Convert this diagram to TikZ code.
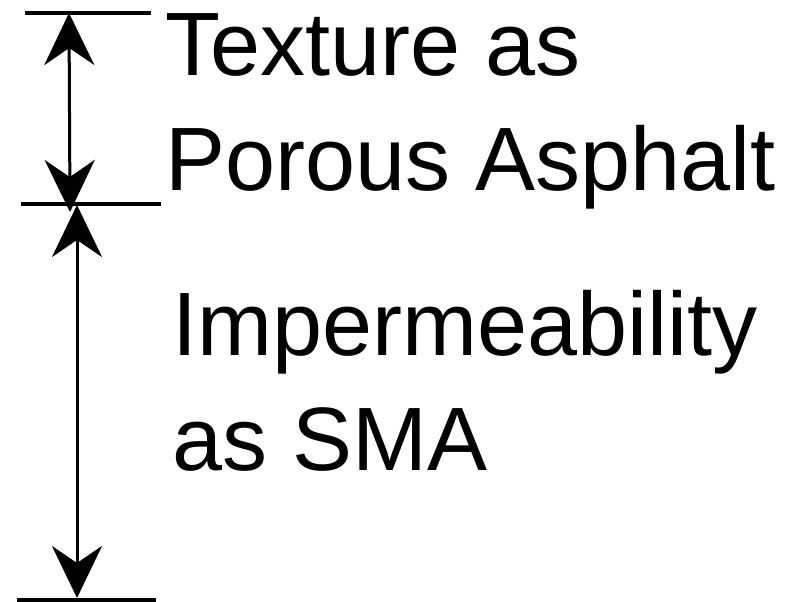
\documentclass[tikz,border=0pt]{standalone}
\usepackage{fontspec}
\setmainfont{Liberation Sans}
\usetikzlibrary{arrows.meta,positioning}

\begin{document}
\begin{tikzpicture}[x=1pt,y=-1pt,
    dimline/.style={line width=4pt},
    dimarrow/.style={line width=3pt,{Stealth[length=52pt,width=50pt,inset=17pt]}-{Stealth[length=52pt,width=50pt,inset=17pt]}},
    lbl/.style={anchor=base west,inner sep=0pt,font=\fontsize{90}{108}\selectfont}
  ]
  \useasboundingbox (0,0) rectangle (790,602);
  % extension lines
  \coordinate (topL) at (25,13);
  \coordinate (topR) at (151,13);
  \coordinate (midL) at (21,204);
  \coordinate (midR) at (161,204);
  \coordinate (botL) at (17,600);
  \coordinate (botR) at (156,600);
  \draw[dimline] (topL) -- (topR);
  \draw[dimline] (midL) -- (midR);
  \draw[dimline] (botL) -- (botR);

  % dimension arrows
  \coordinate (upT) at (69,13);
  \coordinate (upB) at (70,212);
  \coordinate (loT) at (77,205);
  \coordinate (loB) at (77,598);
  \draw (upT) edge[dimarrow] (upB);
  \draw (loT) edge[dimarrow] (loB);

  % labels
  \node[lbl] (texA) at (165,76) {Texture as};
  \node[lbl] (texB) at (165,190) {Porous Asphalt};
  \node[lbl] (impA) at (172,355) {Impermeability};
  \node[lbl] (impB) at (172,470) {as SMA};
\end{tikzpicture}
\end{document}
